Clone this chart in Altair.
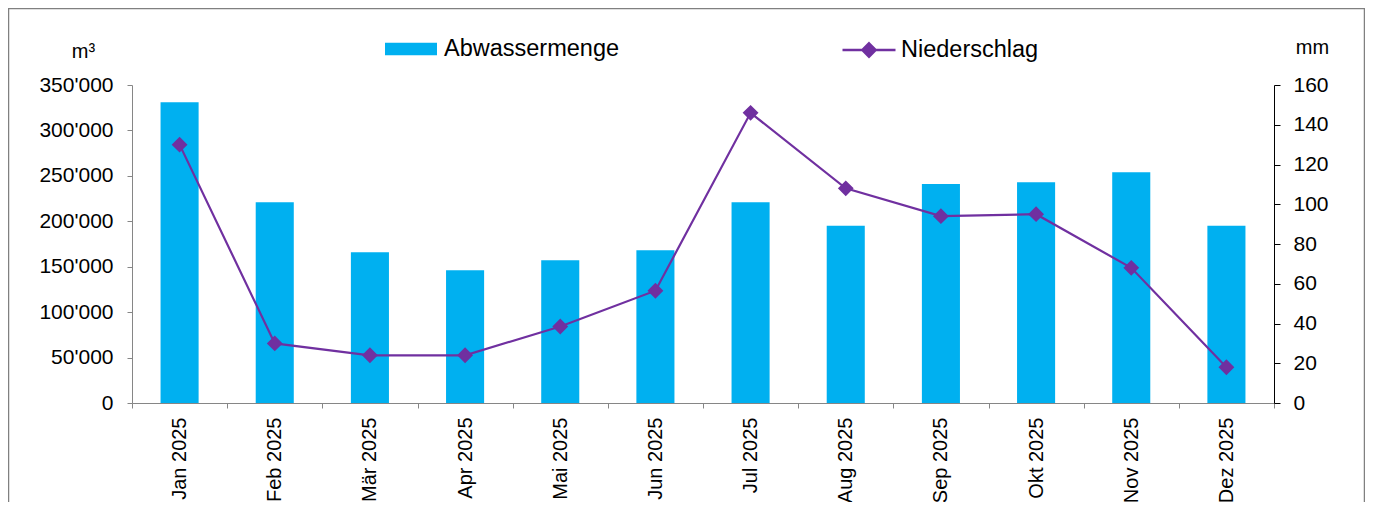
import altair as alt
import pandas as pd

months = ["Jan 2025", "Feb 2025", "Mär 2025", "Apr 2025", "Mai 2025", "Jun 2025",
          "Jul 2025", "Aug 2025", "Sep 2025", "Okt 2025", "Nov 2025", "Dez 2025"]
abwassermenge = [331000, 221000, 166000, 146000, 157000, 168000,
                 221000, 195000, 241000, 243000, 254000, 195000]
niederschlag = [130, 30, 24, 24, 38.5, 56.5, 146, 108, 94, 95, 68, 18]
left_ticks = [0, 50000, 100000, 150000, 200000, 250000, 300000, 350000]
right_ticks = [0, 20, 40, 60, 80, 100, 120, 140, 160]

BAR = "#00B0F0"
LINE = "#7030A0"
FONT = "Liberation Sans"

df = pd.DataFrame({
    "Monat": months,
    "Abwassermenge": abwassermenge,
    "Niederschlag": niederschlag,
    "s1": ["Abwassermenge"] * len(months),
    "s2": ["Niederschlag"] * len(months),
})

W, H = 1142, 318
PAD = {"left": 124, "top": 77, "right": 91, "bottom": 99}

x_enc = alt.X("Monat:N", sort=months,
              scale=alt.Scale(paddingInner=0, paddingOuter=0),
              axis=alt.Axis(title=None, labelAngle=-90, labelFontSize=20,
                            labelColor="black", labelPadding=9, tickSize=5,
                            tickBand="extent", domainColor="#868686",
                            tickColor="#868686", labelFont=FONT,
                            labelLimit=200))

frame = alt.Chart(pd.DataFrame({"f": [0]})).mark_rect(
    fill="white", fillOpacity=0, stroke="#808080", strokeWidth=1.5
).encode(
    x=alt.value(0.5 - PAD["left"]),
    x2=alt.value(1356.5 - PAD["left"]),
    y=alt.value(0.5 - PAD["top"]),
    y2=alt.value(440),
)

bars = alt.Chart(df).mark_bar(width=alt.RelativeBandSize(0.4)).encode(
    x=x_enc,
    y=alt.Y("Abwassermenge:Q",
            scale=alt.Scale(domain=[0, 350000], nice=False),
            axis=alt.Axis(orient="left", values=left_ticks, grid=False,
                          labelExpr="replace(format(datum.value, ','), ',', \"'\")",
                          labelFontSize=21, labelColor="black", labelPadding=14,
                          tickSize=5, domainColor="#868686", tickColor="#868686",
                          title="m³", titleAngle=0, titleX=-49, titleY=-28,
                          titleAlign="center", titleBaseline="alphabetic",
                          titleFontSize=20, titleFontWeight="normal",
                          titleColor="black", labelFont=FONT, titleFont=FONT)),
    fill=alt.Fill("s1:N", scale=alt.Scale(domain=["Abwassermenge"], range=[BAR]),
                  legend=alt.Legend(title=None, orient="none", legendX=253,
                                    legendY=-62, padding=0,
                                    symbolType="M-1,-0.245H1V0.245H-1Z",
                                    symbolSize=2704, symbolStrokeWidth=0,
                                    symbolOpacity=1, labelFontSize=23.5,
                                    labelColor="black", labelOffset=7,
                                    labelLimit=400, labelFont=FONT)),
)

line = alt.Chart(df).mark_line(
    strokeWidth=2.2,
    point=alt.OverlayMarkDef(shape="diamond", filled=True, size=170,
                             fill=LINE, opacity=1),
).encode(
    x=x_enc,
    y=alt.Y("Niederschlag:Q",
            scale=alt.Scale(domain=[0, 160], nice=False),
            axis=alt.Axis(orient="right", values=right_ticks, grid=False,
                          labelFontSize=21, labelColor="black", labelPadding=13,
                          tickSize=6, domainColor="black", tickColor="black",
                          title="mm", titleAngle=0, titleX=38, titleY=-32,
                          titleAlign="center", titleBaseline="alphabetic",
                          titleFontSize=20, titleFontWeight="normal",
                          titleColor="black", labelFont=FONT, titleFont=FONT)),
    stroke=alt.Stroke("s2:N", scale=alt.Scale(domain=["Niederschlag"], range=[LINE]),
                      legend=alt.Legend(title=None, orient="none", legendX=709,
                                        legendY=-63, padding=0,
                                        symbolType="M-1,0H1M0,-0.25L0.25,0L0,0.25L-0.25,0Z",
                                        symbolSize=2809, symbolStrokeWidth=2.5,
                                        symbolFillColor=LINE, symbolOpacity=1,
                                        labelFontSize=23.5, labelColor="black",
                                        labelOffset=4, labelLimit=400,
                                        labelFont=FONT)),
)

chart = alt.layer(frame, bars, line).resolve_scale(
    y="independent"
).properties(
    width=W, height=H, padding=PAD,
    autosize=alt.AutoSizeParams(type="none"),
).configure(font=FONT).configure_view(stroke=None)

chart.save("out.html", embed_options={"renderer": "svg", "actions": False})
